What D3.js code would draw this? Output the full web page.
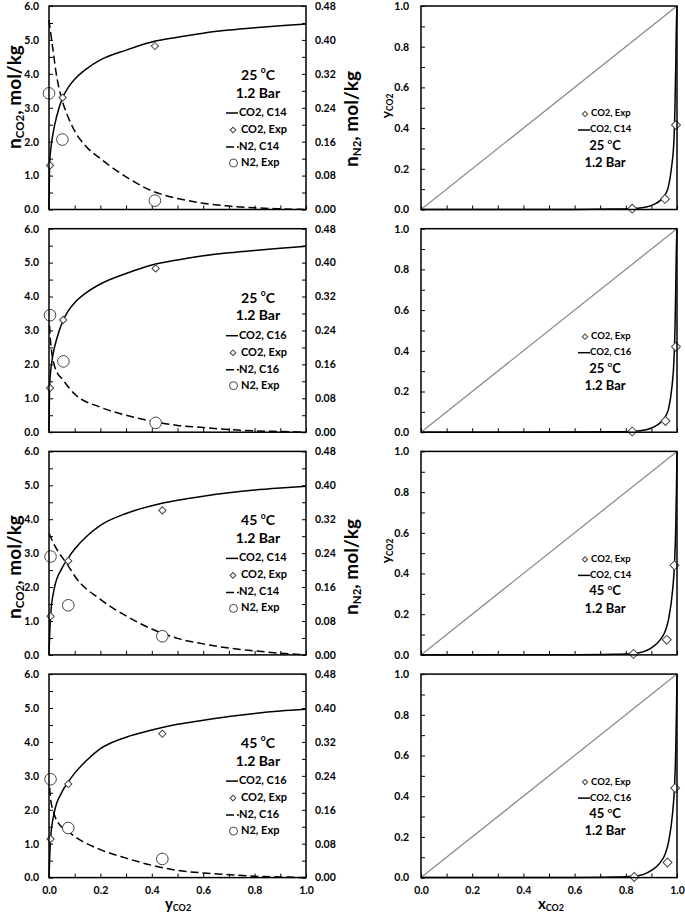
<!DOCTYPE html>
<html><head><meta charset="utf-8">
<script src="https://cdn.jsdelivr.net/npm/d3@7"></script>
<style>
body{margin:0;background:#fff}
svg{display:block}
text{font-family:Lato,"Open Sans",sans-serif;font-weight:bold;fill:#000}
</style>
</head><body>
<svg id="chart" width="685" height="915"></svg>
<script>
// ---------- tick labels ----------
const xTicks = [0, 0.2, 0.4, 0.6, 0.8, 1.0];
const nco2Ticks = [0, 1, 2, 3, 4, 5, 6];
const nn2Ticks = [0, 0.08, 0.16, 0.24, 0.32, 0.40, 0.48];
const yco2Ticks = [0, 0.2, 0.4, 0.6, 0.8, 1.0];

// ---------- panel labels ----------
const temps = ["25", "25", "45", "45"];
const models = ["C14", "C16", "C14", "C16"];

// ---------- left panels: n vs yCO2 ----------
// row 1: 25 C, C14
const co2Model_25_C14 = [[0,0],[0.002,1.3],[0.008,1.85],[0.017,2.3],[0.03,2.75],[0.053,3.3],[0.075,3.6],[0.1,3.84],[0.15,4.17],[0.2,4.41],[0.3,4.7],[0.4,4.94],[0.5,5.08],[0.6,5.2],[0.7,5.29],[0.8,5.36],[0.9,5.42],[1.0,5.47]];
const co2Exp_25_C14 = [[0.004,1.3],[0.053,3.3],[0.412,4.82]];
const n2Model_25_C14 = [[0,0.447],[0.008,0.41],[0.017,0.37],[0.027,0.325],[0.047,0.266],[0.069,0.226],[0.1,0.185],[0.147,0.147],[0.2,0.12],[0.3,0.077],[0.4,0.044],[0.5,0.026],[0.6,0.015],[0.7,0.008],[0.8,0.004],[0.9,0.0016],[1.0,0]];
const n2Exp_25_C14 = [[0.0,0.274],[0.052,0.165],[0.412,0.021]];
// row 2: 25 C, C16
const co2Model_25_C16 = [[0,0],[0.002,1.3],[0.008,1.9],[0.017,2.35],[0.03,2.75],[0.055,3.3],[0.075,3.58],[0.1,3.82],[0.15,4.14],[0.2,4.37],[0.3,4.68],[0.4,4.93],[0.5,5.08],[0.6,5.2],[0.7,5.29],[0.8,5.36],[0.9,5.42],[1.0,5.48]];
const co2Exp_25_C16 = [[0.004,1.3],[0.055,3.31],[0.415,4.83]];
const n2Model_25_C16 = [[0,0.28],[0.004,0.23],[0.01,0.192],[0.023,0.153],[0.056,0.122],[0.1,0.09],[0.2,0.059],[0.3,0.04],[0.4,0.026],[0.5,0.016],[0.6,0.011],[0.7,0.0064],[0.8,0.0032],[0.9,0.0016],[1.0,0.0004]];
const n2Exp_25_C16 = [[0.004,0.276],[0.056,0.167],[0.415,0.022]];
// row 3: 45 C, C14
const co2Model_45_C14 = [[0,0],[0.006,1.14],[0.02,1.94],[0.05,2.55],[0.075,2.86],[0.1,3.12],[0.15,3.52],[0.2,3.82],[0.3,4.17],[0.4,4.4],[0.5,4.56],[0.6,4.68],[0.7,4.78],[0.8,4.86],[0.9,4.92],[1.0,4.97]];
const co2Exp_45_C14 = [[0.006,1.14],[0.075,2.77],[0.441,4.26]];
const n2Model_45_C14 = [[0,0.287],[0.023,0.257],[0.075,0.21],[0.1,0.186],[0.2,0.131],[0.3,0.092],[0.4,0.061],[0.5,0.039],[0.6,0.026],[0.7,0.016],[0.8,0.0096],[0.9,0.004],[1.0,0]];
const n2Exp_45_C14 = [[0.006,0.232],[0.075,0.117],[0.441,0.044]];
// row 4: 45 C, C16
const co2Model_45_C16 = [[0,0],[0.006,1.14],[0.02,1.9],[0.05,2.52],[0.075,2.82],[0.1,3.08],[0.15,3.48],[0.2,3.8],[0.3,4.14],[0.4,4.35],[0.5,4.52],[0.6,4.64],[0.7,4.75],[0.8,4.84],[0.9,4.91],[1.0,4.96]];
const co2Exp_45_C16 = [[0.006,1.14],[0.075,2.76],[0.441,4.24]];
const n2Model_45_C16 = [[0,0.24],[0.005,0.192],[0.017,0.156],[0.036,0.129],[0.075,0.109],[0.1,0.097],[0.2,0.066],[0.3,0.046],[0.4,0.029],[0.5,0.017],[0.6,0.011],[0.7,0.007],[0.8,0.0032],[0.9,0.0016],[1.0,0]];
const n2Exp_45_C16 = [[0.006,0.232],[0.075,0.117],[0.441,0.044]];

// ---------- right panels: yCO2 vs xCO2 ----------
const xyModel_25_C14 = [[0,0],[0.6,0.0005],[0.75,0.002],[0.825,0.004],[0.88,0.012],[0.91,0.025],[0.935,0.045],[0.955,0.075],[0.966,0.11],[0.979,0.21],[0.988,0.34],[0.992,0.5],[0.995,0.7],[0.997,0.87],[1.0,1.0]];
const xyExp_25_C14 = [[0.825,0.004],[0.953,0.052],[0.996,0.415]];
const xyModel_25_C16 = [[0,0],[0.6,0.0005],[0.75,0.002],[0.825,0.004],[0.88,0.012],[0.91,0.026],[0.935,0.047],[0.955,0.078],[0.967,0.115],[0.98,0.22],[0.988,0.35],[0.992,0.5],[0.995,0.7],[0.997,0.87],[1.0,1.0]];
const xyExp_25_C16 = [[0.825,0.004],[0.955,0.055],[0.996,0.42]];
const xyModel_45_C14 = [[0,0],[0.6,0.001],[0.75,0.003],[0.83,0.007],[0.87,0.016],[0.9,0.035],[0.935,0.075],[0.955,0.12],[0.967,0.175],[0.983,0.32],[0.99,0.44],[0.995,0.62],[0.998,0.82],[1.0,1.0]];
const xyExp_45_C14 = [[0.83,0.005],[0.96,0.074],[0.99,0.44]];
const xyModel_45_C16 = [[0,0],[0.6,0.001],[0.75,0.003],[0.83,0.007],[0.87,0.016],[0.9,0.035],[0.935,0.075],[0.955,0.12],[0.967,0.175],[0.983,0.32],[0.99,0.44],[0.995,0.62],[0.998,0.82],[1.0,1.0]];
const xyExp_45_C16 = [[0.833,0.003],[0.963,0.074],[0.993,0.44]];

const diagonal = [[0,0],[1,1]];

// table built from the arrays above
const rows = [
  {co2M: co2Model_25_C14, co2E: co2Exp_25_C14, n2M: n2Model_25_C14, n2E: n2Exp_25_C14, xyM: xyModel_25_C14, xyE: xyExp_25_C14},
  {co2M: co2Model_25_C16, co2E: co2Exp_25_C16, n2M: n2Model_25_C16, n2E: n2Exp_25_C16, xyM: xyModel_25_C16, xyE: xyExp_25_C16},
  {co2M: co2Model_45_C14, co2E: co2Exp_45_C14, n2M: n2Model_45_C14, n2E: n2Exp_45_C14, xyM: xyModel_45_C14, xyE: xyExp_45_C14},
  {co2M: co2Model_45_C16, co2E: co2Exp_45_C16, n2M: n2Model_45_C16, n2E: n2Exp_45_C16, xyM: xyModel_45_C16, xyE: xyExp_45_C16}
];

// ---------- layout ----------
const svg = d3.select("#chart");
const rowTop = i => 6 + i * 222.7;
const plotH = 203.5;
const L = {x0: 49, x1: 306};
const R = {x0: 421, x1: 677};
const tickFont = "10.5px";
const markStroke = "#444";

function diamond(g, x, y, size) {
  g.append("path")
    .attr("d", d3.symbol(d3.symbolSquare, size)())
    .attr("transform", `translate(${x},${y}) rotate(45)`)
    .attr("fill", "#fff").attr("stroke", markStroke).attr("stroke-width", 1);
}

function styleAxis(g) {
  g.select(".domain").remove();
  g.selectAll(".tick line").attr("stroke", "#000").attr("stroke-width", 1);
  g.selectAll(".tick text").style("font-size", tickFont).attr("fill", "#000");
}

function titleBlock(g, cx, y1, y2, temp, fs) {
  const t = g.append("text").attr("x", cx).attr("y", y1).attr("text-anchor", "middle")
    .attr("dominant-baseline", "middle").style("font-size", fs + "px");
  t.append("tspan").text(temp + " ");
  t.append("tspan").text("o").style("font-size", (fs * 0.62) + "px").attr("dy", -fs * 0.35);
  t.append("tspan").text("C").attr("dy", fs * 0.35);
  g.append("text").attr("x", cx).attr("y", y2).attr("text-anchor", "middle")
    .attr("dominant-baseline", "middle").style("font-size", fs + "px").text("1.2 Bar");
}

rows.forEach((r, i) => {
  const top = rowTop(i), bot = top + plotH;
  const last = i === rows.length - 1;

  // ===== LEFT PANEL =====
  const g = svg.append("g");
  const x = d3.scaleLinear().domain([0, 1]).range([L.x0, L.x1]);
  const yL = d3.scaleLinear().domain([0, 6]).range([bot, top]);
  const yR = d3.scaleLinear().domain([0, 0.48]).range([bot, top]);

  g.append("g").attr("transform", `translate(${L.x0},0)`)
    .call(d3.axisLeft(yL).tickValues(d3.range(0, 6.001, 0.5)).tickSize(-4).tickFormat(""))
    .call(styleAxis);
  g.append("g").attr("transform", `translate(${L.x0},0)`)
    .call(d3.axisLeft(yL).tickValues(nco2Ticks).tickSize(0).tickPadding(10).tickFormat(d3.format(".1f")))
    .call(styleAxis);
  g.append("g").attr("transform", `translate(${L.x1},0)`)
    .call(d3.axisRight(yR).tickValues(d3.range(0, 0.4801, 0.04)).tickSize(-4).tickFormat(""))
    .call(styleAxis);
  g.append("g").attr("transform", `translate(${L.x1},0)`)
    .call(d3.axisRight(yR).tickValues(nn2Ticks).tickSize(0).tickPadding(9).tickFormat(d3.format(".2f")))
    .call(styleAxis);
  g.append("g").attr("transform", `translate(0,${bot})`)
    .call(d3.axisBottom(x).tickValues(d3.range(0, 1.001, 0.1)).tickSize(-4).tickFormat(""))
    .call(styleAxis);
  if (last) {
    g.append("g").attr("transform", `translate(0,${bot})`)
      .call(d3.axisBottom(x).tickValues(xTicks).tickSize(0).tickPadding(9).tickFormat(d3.format(".1f")))
      .call(styleAxis);
  }

  const lineL = d3.line().x(d => x(d[0])).y(d => yL(d[1])).curve(d3.curveMonotoneX);
  const lineR = d3.line().x(d => x(d[0])).y(d => yR(d[1])).curve(d3.curveMonotoneX);

  g.append("path").attr("d", lineL(r.co2M)).attr("fill", "none").attr("stroke", "#000").attr("stroke-width", 1.5);
  g.append("path").attr("d", lineR(r.n2M)).attr("fill", "none").attr("stroke", "#000")
    .attr("stroke-width", 1.5).attr("stroke-dasharray", "8,4");

  r.co2E.forEach(d => diamond(g, x(d[0]), yL(d[1]), 26));
  g.selectAll(null).data(r.n2E).join("circle")
    .attr("cx", d => x(d[0])).attr("cy", d => yR(d[1])).attr("r", 5.8)
    .attr("fill", "#fff").attr("stroke", markStroke).attr("stroke-width", 1);

  g.append("rect").attr("x", L.x0).attr("y", top).attr("width", L.x1 - L.x0).attr("height", plotH)
    .attr("fill", "none").attr("stroke", "#000").attr("stroke-width", 1.5);

  titleBlock(g, 258, top + 70, top + 88, temps[i], 14);
  const lg = [top + 107, top + 124, top + 141, top + 157];
  g.append("line").attr("x1", 226).attr("x2", 238).attr("y1", lg[0]).attr("y2", lg[0])
    .attr("stroke", "#000").attr("stroke-width", 1.5);
  g.append("text").attr("x", 239).attr("y", lg[0]).attr("dominant-baseline", "middle").style("font-size", "11px").text("CO2, " + models[i]);
  diamond(g, 233, lg[1], 16);
  g.append("text").attr("x", 241).attr("y", lg[1]).attr("dominant-baseline", "middle").style("font-size", "11px").text("CO2, Exp");
  g.append("line").attr("x1", 226).attr("x2", 239).attr("y1", lg[2]).attr("y2", lg[2])
    .attr("stroke", "#000").attr("stroke-width", 1.5).attr("stroke-dasharray", "8,3");
  g.append("text").attr("x", 239).attr("y", lg[2]).attr("dominant-baseline", "middle").style("font-size", "11px").text("N2, " + models[i]);
  g.append("circle").attr("cx", 233.5).attr("cy", lg[3]).attr("r", 4)
    .attr("fill", "#fff").attr("stroke", markStroke).attr("stroke-width", 1);
  g.append("text").attr("x", 241).attr("y", lg[3]).attr("dominant-baseline", "middle").style("font-size", "11px").text("N2, Exp");

  // ===== RIGHT PANEL =====
  const h = svg.append("g");
  const xx = d3.scaleLinear().domain([0, 1]).range([R.x0, R.x1]);
  const yy = d3.scaleLinear().domain([0, 1]).range([bot, top]);
  h.append("g").attr("transform", `translate(${R.x0},0)`)
    .call(d3.axisLeft(yy).tickValues(d3.range(0, 1.001, 0.1)).tickSize(-4).tickFormat(""))
    .call(styleAxis);
  h.append("g").attr("transform", `translate(${R.x0},0)`)
    .call(d3.axisLeft(yy).tickValues(yco2Ticks).tickSize(0).tickPadding(12).tickFormat(d3.format(".1f")))
    .call(styleAxis);
  h.append("g").attr("transform", `translate(0,${bot})`)
    .call(d3.axisBottom(xx).tickValues(d3.range(0, 1.001, 0.1)).tickSize(-4).tickFormat(""))
    .call(styleAxis);
  if (last) {
    h.append("g").attr("transform", `translate(0,${bot})`)
      .call(d3.axisBottom(xx).tickValues(xTicks).tickSize(0).tickPadding(9).tickFormat(d3.format(".1f")))
      .call(styleAxis);
  }
  const lineXY = d3.line().x(d => xx(d[0])).y(d => yy(d[1]));
  h.append("path").attr("d", lineXY(diagonal)).attr("fill", "none").attr("stroke", "#8c8c8c").attr("stroke-width", 1.3);
  h.append("path").attr("d", lineXY.curve(d3.curveMonotoneX)(r.xyM)).attr("fill", "none")
    .attr("stroke", "#000").attr("stroke-width", 1.5);
  r.xyE.forEach(d => diamond(h, xx(d[0]), yy(d[1]), 40));
  h.append("rect").attr("x", R.x0).attr("y", top).attr("width", R.x1 - R.x0).attr("height", plotH)
    .attr("fill", "none").attr("stroke", "#000").attr("stroke-width", 1.5);

  const rl = [top + 108, top + 124];
  diamond(h, 585, rl[0], 14);
  h.append("text").attr("x", 591).attr("y", rl[0]).attr("dominant-baseline", "middle").style("font-size", "9.5px").text("CO2, Exp");
  h.append("line").attr("x1", 578).attr("x2", 590).attr("y1", rl[1]).attr("y2", rl[1]).attr("stroke", "#000").attr("stroke-width", 1.5);
  h.append("text").attr("x", 590).attr("y", rl[1]).attr("dominant-baseline", "middle").style("font-size", "9.5px").text("CO2, " + models[i]);
  titleBlock(h, 605, top + 141, top + 158, temps[i], 13);
});

// ---------- axis titles ----------
function rotLabel(x, y, main, sub, fsMain, fsSub) {
  const t = svg.append("text").attr("transform", `translate(${x},${y}) rotate(-90)`)
    .attr("text-anchor", "middle").attr("dominant-baseline", "middle");
  t.append("tspan").text(main[0]).style("font-size", fsMain + "px");
  t.append("tspan").text(sub).style("font-size", fsSub + "px").attr("dy", fsMain * 0.28);
  if (main[1]) t.append("tspan").text(main[1]).style("font-size", fsMain + "px").attr("dy", -fsMain * 0.28);
}
rotLabel(16, 97, ["n", ", mol/kg"], "CO2", 19, 11.5);
rotLabel(16, 567, ["n", ", mol/kg"], "CO2", 19, 11.5);
rotLabel(353, 119, ["n", ", mol/kg"], "N2", 19, 11.5);
rotLabel(353, 567, ["n", ", mol/kg"], "N2", 19, 11.5);
rotLabel(387, 106, ["y", ""], "CO2", 14, 8.5);
rotLabel(387, 551, ["y", ""], "CO2", 14, 8.5);

function botLabel(x, y, main, sub) {
  const t = svg.append("text").attr("x", x).attr("y", y).attr("text-anchor", "middle").attr("dominant-baseline", "middle");
  t.append("tspan").text(main).style("font-size", "15px");
  t.append("tspan").text(sub).style("font-size", "9px").attr("dy", 4);
}
botLabel(178, 905, "y", "CO2");
botLabel(551, 905, "x", "CO2");
</script>
</body></html>
